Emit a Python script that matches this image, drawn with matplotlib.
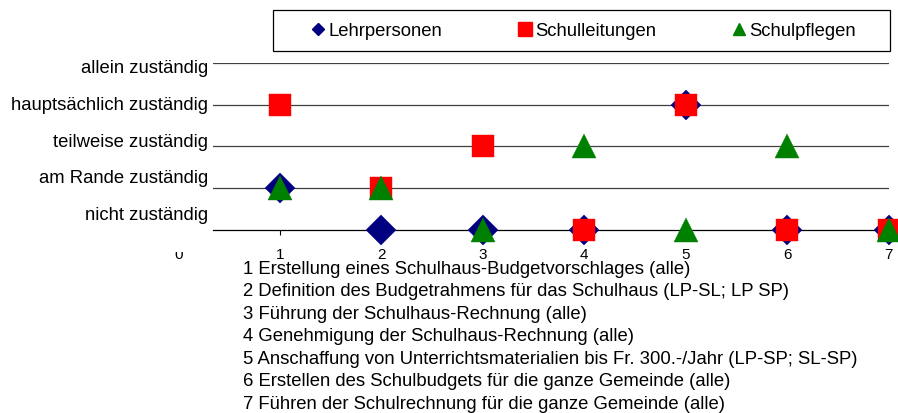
import matplotlib
matplotlib.use("Agg")
import matplotlib.pyplot as plt
from matplotlib.lines import Line2D
from matplotlib.patches import Rectangle
from matplotlib.transforms import Bbox, offset_copy, blended_transform_factory

plt.rcParams['font.family'] = ['Liberation Sans', 'DejaVu Sans']

# task numbers and rating per group (0 = nicht zuständig ... 4 = allein zuständig)
tasks = [1, 2, 3, 4, 5, 6, 7]
lehrpersonen = [1, 0, 0, 0, 3, 0, 0]
schulleitungen = [3, 1, 2, 0, 3, 0, 0]
schulpflegen = [1, 1, 0, 2, 0, 2, 0]

levels = ["nicht zuständig", "am Rande zuständig", "teilweise zuständig",
          "hauptsächlich zuständig", "allein zuständig"]
# the labels sit a bit off their lines in the original
level_label_pos = [0.26, 1.14, 2.01, 2.89, 3.78]

descriptions = [
    "1 Erstellung eines Schulhaus-Budgetvorschlages (alle)",
    "2 Definition des Budgetrahmens für das Schulhaus (LP-SL; LP SP)",
    "3 Führung der Schulhaus-Rechnung (alle)",
    "4 Genehmigung der Schulhaus-Rechnung (alle)",
    "5 Anschaffung von Unterrichtsmaterialien bis Fr. 300.-/Jahr (LP-SP; SL-SP)",
    "6 Erstellen des Schulbudgets für die ganze Gemeinde (alle)",
    "7 Führen der Schulrechnung für die ganze Gemeinde (alle)",
]

W, H = 898, 414
FS = 13.3
TICK_FS = 11
TICK_PAD = 8.5
fig = plt.figure(figsize=(W / 100, H / 100), dpi=100)
ax = fig.add_axes([213.3 / W, 1 - 230.7 / H, (889 - 213.3) / W, (230.7 - 64) / H])
ax.set_xlim(0.342, 7.003)
ax.set_ylim(0, 4)

for sp in ["left", "right", "top"]:
    ax.spines[sp].set_visible(False)
ax.spines["bottom"].set_color("black")
ax.spines["bottom"].set_linewidth(0.9)

for i in range(1, len(levels)):
    ax.axhline(i, color="#404040", lw=0.9, zorder=1)

ax.plot(tasks, lehrpersonen, ls="none", marker="D", ms=14.9, color="#000080",
        mec="#000080", mew=0.3, clip_on=False, zorder=3)
ax.plot(tasks, schulleitungen, ls="none", marker="s", ms=15.2, color="#ff0000",
        mec="#ff0000", mew=0.3, clip_on=False, zorder=4)
ax.plot(tasks, schulpflegen, ls="none", marker="^", ms=17, color="#008000",
        mec="#008000", mew=0.3, clip_on=False, zorder=5)

ax.set_yticks([])
ax.set_xticks(tasks)
ax.set_xticklabels([str(t) for t in tasks])
ax.tick_params(axis="x", length=3.6, width=0.8, pad=TICK_PAD, labelsize=TICK_FS, colors="black")

# stray "0" label of the original, mostly hidden
trans0 = offset_copy(ax.get_xaxis_transform(), fig=fig, y=-(3.6 + TICK_PAD), units="points")
t0 = ax.text(0, 0, "0", transform=trans0, ha="center", va="top", fontsize=TICK_FS, clip_on=True)
t0.set_clip_box(Bbox.from_extents(150, 0, 210, H - 253))

ytrans = blended_transform_factory(ax.transAxes, ax.transData)
for lab, pos in zip(levels, level_label_pos):
    ax.text(-0.0078, pos, lab, transform=ytrans, ha="right", va="baseline", fontsize=FS)

# legend
handles = [
    Line2D([], [], ls="none", marker="D", ms=6.1, color="#000080"),
    Line2D([], [], ls="none", marker="s", ms=9.4, color="#ff0000"),
    Line2D([], [], ls="none", marker="^", ms=8.6, color="#008000"),
]
fig.legend(handles, ["Lehrpersonen", "Schulleitungen", "Schulpflegen"], ncol=3,
           loc="center left", bbox_to_anchor=(311.6 / W, 1 - 32 / H),
           bbox_transform=fig.transFigure, frameon=False, borderpad=0,
           borderaxespad=0, handlelength=0.7, handletextpad=0.2,
           columnspacing=4.15, fontsize=FS)
fig.add_artist(Rectangle((273 / W, 1 - 52 / H), (890 - 273) / W, 41 / H,
                         transform=fig.transFigure, fill=False, ec="black", lw=0.9))

for i, d in enumerate(descriptions):
    fig.text(243 / W, 1 - (274 + 22.5 * i) / H, d, ha="left", va="baseline", fontsize=FS)

fig.savefig("out.png", dpi=100)
